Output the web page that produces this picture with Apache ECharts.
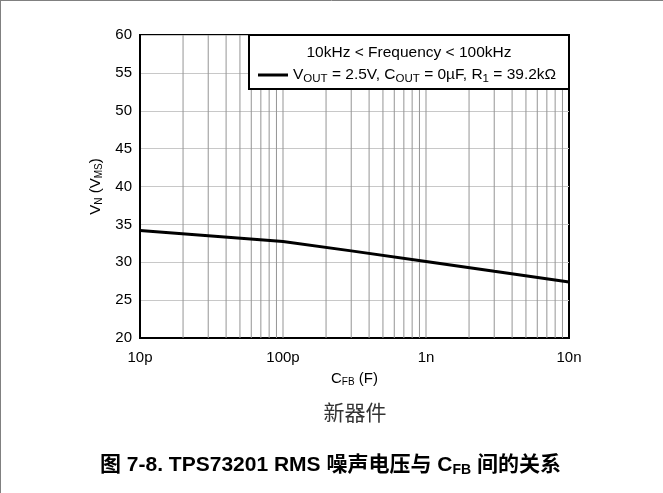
<!DOCTYPE html>
<html>
<head>
<meta charset="utf-8">
<script src="https://cdn.jsdelivr.net/npm/echarts@6/dist/echarts.min.js"></script>
<style>
html,body{margin:0;padding:0;background:#fff;}
#chart{width:663px;height:493px;}
</style>
</head>
<body>
<div id="chart"></div>
<script>
// Data
var capacitance = [1e-11, 1e-10, 3e-10, 1e-9, 3e-9, 1e-8];   // C_FB (F)
var noise = [34.2, 32.75, 31.5, 30.1, 28.8, 27.4];            // V_N
var xTickLabels = {'-11': '10p', '-10': '100p', '-9': '1n', '-8': '10n'};
var decades = [1e-11, 1e-10, 1e-9];
var minorMultipliers = [1, 2, 3, 4, 5, 6, 7, 8, 9];
var yTicks = {min: 20, max: 60, interval: 5};

var gridValues = [];
decades.forEach(function (d) {
  minorMultipliers.forEach(function (m) { if (!(d === 1e-11 && m === 1)) gridValues.push(d * m); });
});

var font = 'Liberation Sans, Arial, sans-serif';
var fs = 15;
var richStyles = {
  n: {fontFamily: font, fontSize: fs, color: '#000'},
  s: {fontFamily: font, fontSize: 10, color: '#000', padding: [7, 0, 0, 0]}
};
var legendRich = {
  n: {fontFamily: font, fontSize: 15.5, color: '#000'},
  s: {fontFamily: font, fontSize: 11.5, color: '#000', padding: [7, 0, 0, 0]}
};
var lineData = capacitance.map(function (c, i) { return [c, noise[i]]; });

var gridSeries = gridValues.map(function (v) {
  return {
    name: 'g' + v, type: 'line', silent: true, symbol: 'none', z: 1,
    lineStyle: {color: '#959595', width: 1}, legendHoverLink: false,
    data: [[v, yTicks.min], [v, yTicks.max]]
  };
});

var chart = echarts.init(document.getElementById('chart'));
chart.setOption({
  animation: false,
  backgroundColor: '#fff',
  grid: {left: 140, top: 35, right: 94, bottom: 155, show: true, borderColor: '#000', borderWidth: 2, backgroundColor: 'transparent'},
  xAxis: {
    type: 'log', logBase: 10, min: 1e-11, max: 1e-8,
    axisLine: {show: true, lineStyle: {color: '#000', width: 2}},
    axisTick: {show: false},
    splitLine: {show: false},
    axisLabel: {
      color: '#000', fontFamily: font, fontSize: fs, margin: 12,
      formatter: function (v) { return xTickLabels[String(Math.round(Math.log10(v)))] || ''; }
    },
    name: '{n|C}{s|FB}{n| (F)}', nameLocation: 'middle', nameGap: 32,
    nameTextStyle: {rich: richStyles}
  },
  yAxis: {
    type: 'value', min: yTicks.min, max: yTicks.max, interval: yTicks.interval,
    axisLine: {show: true, lineStyle: {color: '#000', width: 2}},
    axisTick: {show: false},
    splitLine: {show: true, lineStyle: {color: '#c8c8c8', width: 1}},
    axisLabel: {color: '#000', fontFamily: font, fontSize: fs, margin: 8},
    name: '{n|V}{s|N}{n| (V}{s|MS}{n|)}', nameLocation: 'middle', nameGap: 36, nameRotate: 90,
    nameTextStyle: {rich: richStyles}
  },
  legend: {
    show: true, left: 253, top: 62, z: 20, icon: 'rect', itemWidth: 30, itemHeight: 3, itemGap: 5,
    textStyle: {color: '#000', fontFamily: font, fontSize: 15.5, rich: legendRich},
    formatter: function () {
      return '{n|V}{s|OUT}{n| = 2.5V, C}{s|OUT}{n| = 0µF, R}{s|1}{n| = 39.2kΩ}';
    },
    data: ['noise']
  },
  graphic: [
    {type: 'rect', z: 5, shape: {x: 249, y: 35, width: 320, height: 54}, style: {fill: '#fff', stroke: '#000', lineWidth: 2}},
    {type: 'text', z: 6, style: {text: '10kHz < Frequency < 100kHz', x: 409, y: 45, textAlign: 'center', fill: '#000', font: '15.5px ' + font}},
    {type: 'line', z: 10, shape: {x1: 0.5, y1: 0, x2: 0.5, y2: 493}, style: {stroke: '#808080', lineWidth: 1}},
    {type: 'line', z: 10, shape: {x1: 0, y1: 0.5, x2: 663, y2: 0.5}, style: {stroke: '#808080', lineWidth: 1}},
    {type: 'text', style: {text: '新器件', x: 355, y: 402, textAlign: 'center', fill: '#333', font: '21px "Noto Sans CJK SC"'}},
    {type: 'text', style: {
      x: 100, y: 453,
      text: '{b|图 7-8. TPS73201 RMS 噪声电压与 C}{sb|FB}{b| 间的关系}',
      rich: {
        b: {fontFamily: 'Liberation Sans, "Noto Sans CJK SC"', fontWeight: 'bold', fontSize: 21, color: '#000'},
        sb: {fontFamily: 'Liberation Sans', fontWeight: 'bold', fontSize: 14, color: '#000', padding: [10, 0, 0, 0]}
      }
    }}
  ],
  series: gridSeries.concat([
    {
      name: 'noise', type: 'line', showSymbol: false, symbol: 'none', z: 4,
      lineStyle: {color: '#000', width: 3}, itemStyle: {color: '#000'},
      data: lineData
    }
  ])
});
</script>
</body>
</html>
